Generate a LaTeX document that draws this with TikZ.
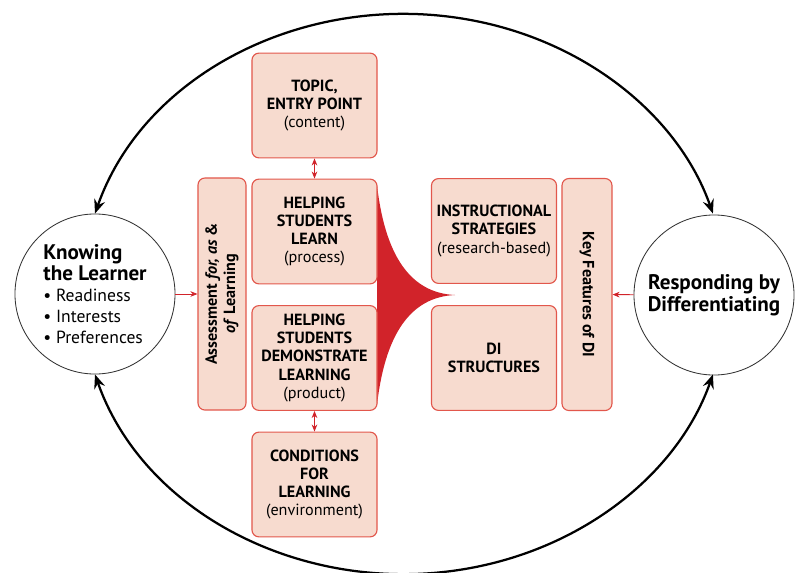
\documentclass[tikz,border=0pt]{standalone}
\usepackage{fontspec}
\setmainfont{PT Sans}
\usetikzlibrary{arrows.meta}
\definecolor{boxpink}{HTML}{F7DBCF}
\definecolor{boxred}{HTML}{E2574C}
\definecolor{funred}{HTML}{D1232A}
\begin{document}
\begin{tikzpicture}[x=0.025cm,y=-0.025cm,
    box/.style={draw=boxred,fill=boxpink,rounded corners=5pt,line width=0.8pt,
      align=center,minimum width=3.125cm,minimum height=2.62cm,inner sep=1pt,
      font=\fontsize{11.5}{13}\selectfont\bfseries},
    side/.style={box,minimum width=5.8cm,minimum height=1.2cm,
      font=\fontsize{11.5}{13}\selectfont\bfseries},
    ring/.style={draw=black!80,line width=0.6pt,circle,minimum size=4cm,fill=white},
    redarr/.style={draw=funred,line width=0.6pt,-{Stealth[length=5pt,width=4pt]}},
    redboth/.style={redarr,{Stealth[length=5pt,width=4pt]}-{Stealth[length=5pt,width=4pt]}},
    bigarr/.style={line width=1.6pt,
      {Stealth[length=10pt,width=8pt,inset=3.5pt]}-{Stealth[length=10pt,width=8pt,inset=3.5pt]}}]
  \useasboundingbox (0,0) rectangle (797,573);
  \fill[funred] (377,185) .. controls (385,255) and (410,293) .. (455,295)
    .. controls (410,297) and (385,335) .. (377,405) -- cycle;
  \node[box](topic) at(314.5,105.5) {TOPIC,\\ENTRY POINT\\{\mdseries(content)}};
  \node[box](learn) at(314.5,231.5) {HELPING\\STUDENTS\\LEARN\\{\mdseries(process)}};
  \node[box](demo) at(314.5,358) {HELPING\\STUDENTS\\DEMONSTRATE\\LEARNING\\{\mdseries(product)}};
  \node[box](cond) at(314.5,484.5) {CONDITIONS\\FOR\\LEARNING\\{\mdseries(environment)}};
  \node[box](instr) at(494,231) {INSTRUCTIONAL\\STRATEGIES\\{\mdseries(research-based)}};
  \node[box](struct) at(494,358) {DI\\STRUCTURES};
  \node[side,rotate=90](assess) at(222,294) {Assessment \textit{for, as} \&\\\textit{of} Learning};
  \node[side,rotate=-90,minimum height=1.25cm](keyf) at(587,294.5) {Key Features of DI};
  \node[ring,align=left,font=\fontsize{12.5}{14.8}\selectfont](L) at(95,294)
    {{\fontsize{15}{15}\selectfont\bfseries Knowing}\\
     {\fontsize{15}{15}\selectfont\bfseries the Learner}\\
     \textbullet\ Readiness\\ \textbullet\ Interests\\ \textbullet\ Preferences};
  \node[ring,align=center,font=\fontsize{15}{16}\selectfont\bfseries](R) at(714,295)
    {Responding by\\Differentiating};
  \foreach \a/\b in {topic/learn, demo/cond}{
    \draw[redboth] (\a) -- (\b);
  }
  \draw[redarr] (L) -- (assess);
  \draw[redarr] (R) -- (keyf);
  \draw[bigarr] (L.north) arc[start angle=163,end angle=17,x radius=8.075cm,y radius=7.05cm];
  \draw[bigarr] (L.south) arc[start angle=197,end angle=343,x radius=8.075cm,y radius=7.05cm];
\end{tikzpicture}
\end{document}
